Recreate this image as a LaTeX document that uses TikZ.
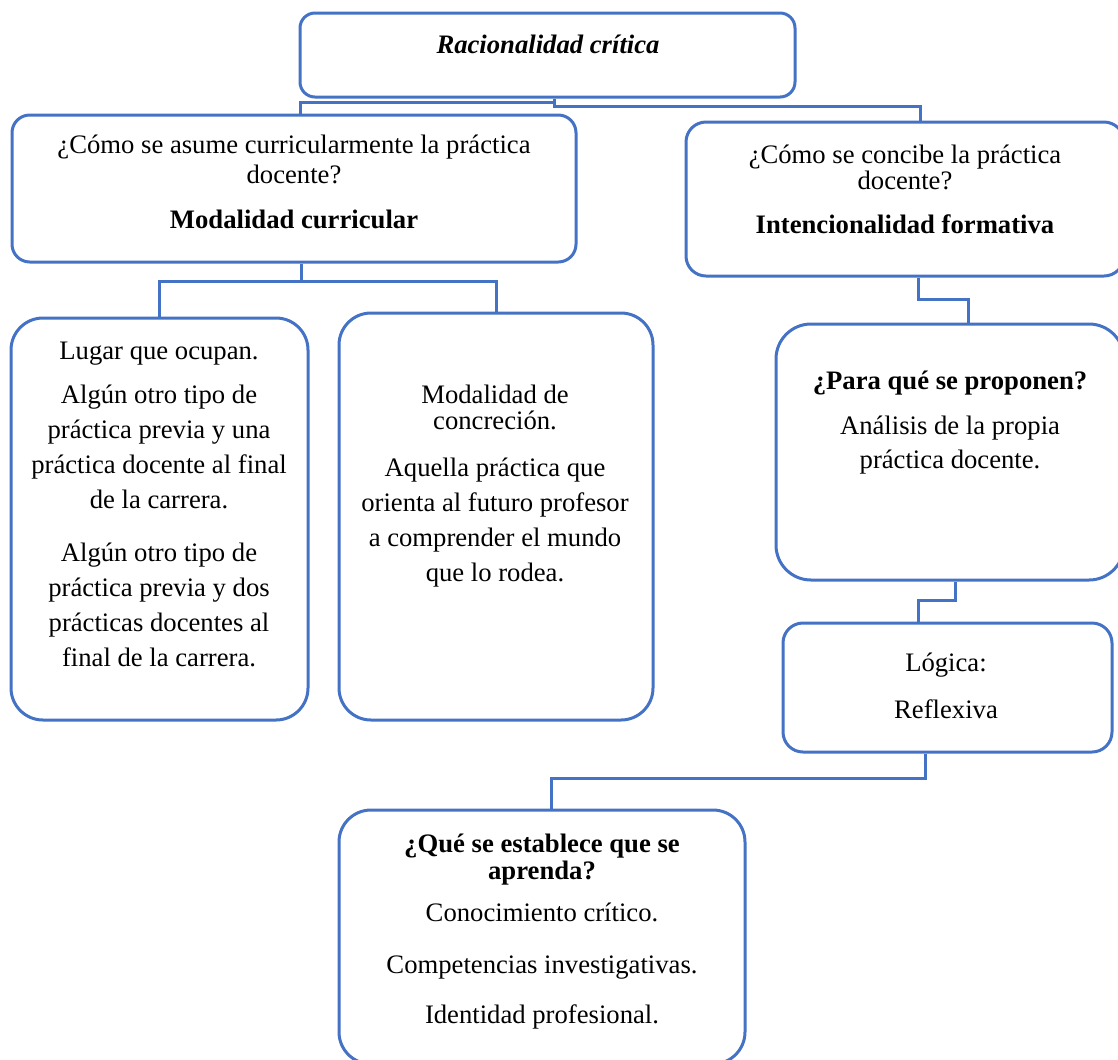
\documentclass[tikz,border=0pt]{standalone}
\usepackage{fontspec}
\setmainfont{Liberation Serif}
\usetikzlibrary{fit,calc}
\definecolor{frame}{HTML}{4472C4}
\begin{document}
\begin{tikzpicture}[x=0.45pt,y=-0.45pt,
  box/.style={draw=frame, line width=1.35pt, inner sep=0pt},
  conn/.style={draw=frame, line width=1.35pt},
  txt/.style={inner sep=0pt, text height=8.5pt, text depth=2.5pt, font=\fontsize{12}{14}\selectfont},
  bold/.style={txt, font=\fontsize{12}{14}\selectfont\bfseries},
  ital/.style={txt, font=\fontsize{12}{14}\selectfont\bfseries\itshape}]
\useasboundingbox (0,0) rectangle (1118,1059);

% boxes
\node[box, rounded corners=6.75pt, fit={(300,13) (795,97)}] (top) {};
\node[box, rounded corners=8pt, fit={(12,115) (576,262)}] (curr) {};
\node[box, rounded corners=9pt, fit={(686,122) (1124,276)}] (conc) {};
\node[box, rounded corners=14.4pt, fit={(11,318) (308,720)}] (lugar) {};
\node[box, rounded corners=14.4pt, fit={(339,313) (653,720)}] (modal) {};
\node[box, rounded corners=15.75pt, fit={(776,324) (1124,580)}] (para) {};
\node[box, rounded corners=9pt, fit={(783,623) (1112,752)}] (logica) {};
\node[box, rounded corners=14.4pt, fit={(339,810) (745,1064)}] (aprende) {};

% connectors
\draw[conn] ($(top.south)+(6.5,0)$) |- ($(curr.north)+(6,-11)$) -- ($(curr.north)+(6,0)$);
\draw[conn] ($(top.south)+(6.5,0)$) |- ($(conc.north)+(15,-14)$) -- ($(conc.north)+(15,0)$);
\draw[conn] ($(curr.south)+(7,0)$) |- ($(lugar.north)+(0,-35)$) -- (lugar.north);
\draw[conn] ($(curr.south)+(7,0)$) |- ($(modal.north)+(0,-30)$) -- (modal.north);
\draw[conn] ($(conc.south)+(13,0)$) |- ($(para.north)+(18,-23)$) -- ($(para.north)+(18,0)$);
\draw[conn] ($(para.south)+(5,0)$) |- ($(logica.north)+(-29,-21)$) -- ($(logica.north)+(-29,0)$);
\draw[conn] ($(logica.south)+(-22,0)$) |- ($(aprende.north)+(9,-30)$) -- ($(aprende.north)+(9,0)$);

% texts
\node[ital] (tTop) at (548,47) {Racionalidad crítica};

\node[txt] (tCurr1) at (294,147) {¿Cómo se asume curricularmente la práctica};
\node[txt] (tCurr2) at (294,177) {docente?};
\node[bold] (tCurr3) at (294,222) {Modalidad curricular};

\node[txt] (tConc1) at (905,157) {¿Cómo se concibe la práctica};
\node[txt] (tConc2) at (905,183) {docente?};
\node[bold] (tConc3) at (905,227) {Intencionalidad formativa};

\node[txt] (tLug1) at (159,353) {Lugar que ocupan.};
\node[txt] (tLug2) at (159,397) {Algún otro tipo de};
\node[txt] (tLug3) at (159,432) {práctica previa y una};
\node[txt] (tLug4) at (159,467) {práctica docente al final};
\node[txt] (tLug5) at (159,502) {de la carrera.};
\node[txt] (tLug6) at (159,555) {Algún otro tipo de};
\node[txt] (tLug7) at (159,590) {práctica previa y dos};
\node[txt] (tLug8) at (159,625) {prácticas docentes al};
\node[txt] (tLug9) at (159,660) {final de la carrera.};

\node[txt] (tMod1) at (495,397) {Modalidad de};
\node[txt] (tMod2) at (495,423) {concreción.};
\node[txt] (tMod3) at (495,470) {Aquella práctica que};
\node[txt] (tMod4) at (495,505) {orienta al futuro profesor};
\node[txt] (tMod5) at (495,540) {a comprender el mundo};
\node[txt] (tMod6) at (495,575) {que lo rodea.};

\node[bold] (tPara1) at (950,383) {¿Para qué se proponen?};
\node[txt] (tPara2) at (950,428) {Análisis de la propia};
\node[txt] (tPara3) at (950,462) {práctica docente.};

\node[txt] (tLog1) at (946,665) {Lógica:};
\node[txt] (tLog2) at (946,712) {Reflexiva};

\node[bold] (tApr1) at (542,846) {¿Qué se establece que se};
\node[bold] (tApr2) at (542,873) {aprenda?};
\node[txt] (tApr3) at (542,915) {Conocimiento crítico.};
\node[txt] (tApr4) at (542,967) {Competencias investigativas.};
\node[txt] (tApr5) at (542,1017) {Identidad profesional.};
\end{tikzpicture}
\end{document}
